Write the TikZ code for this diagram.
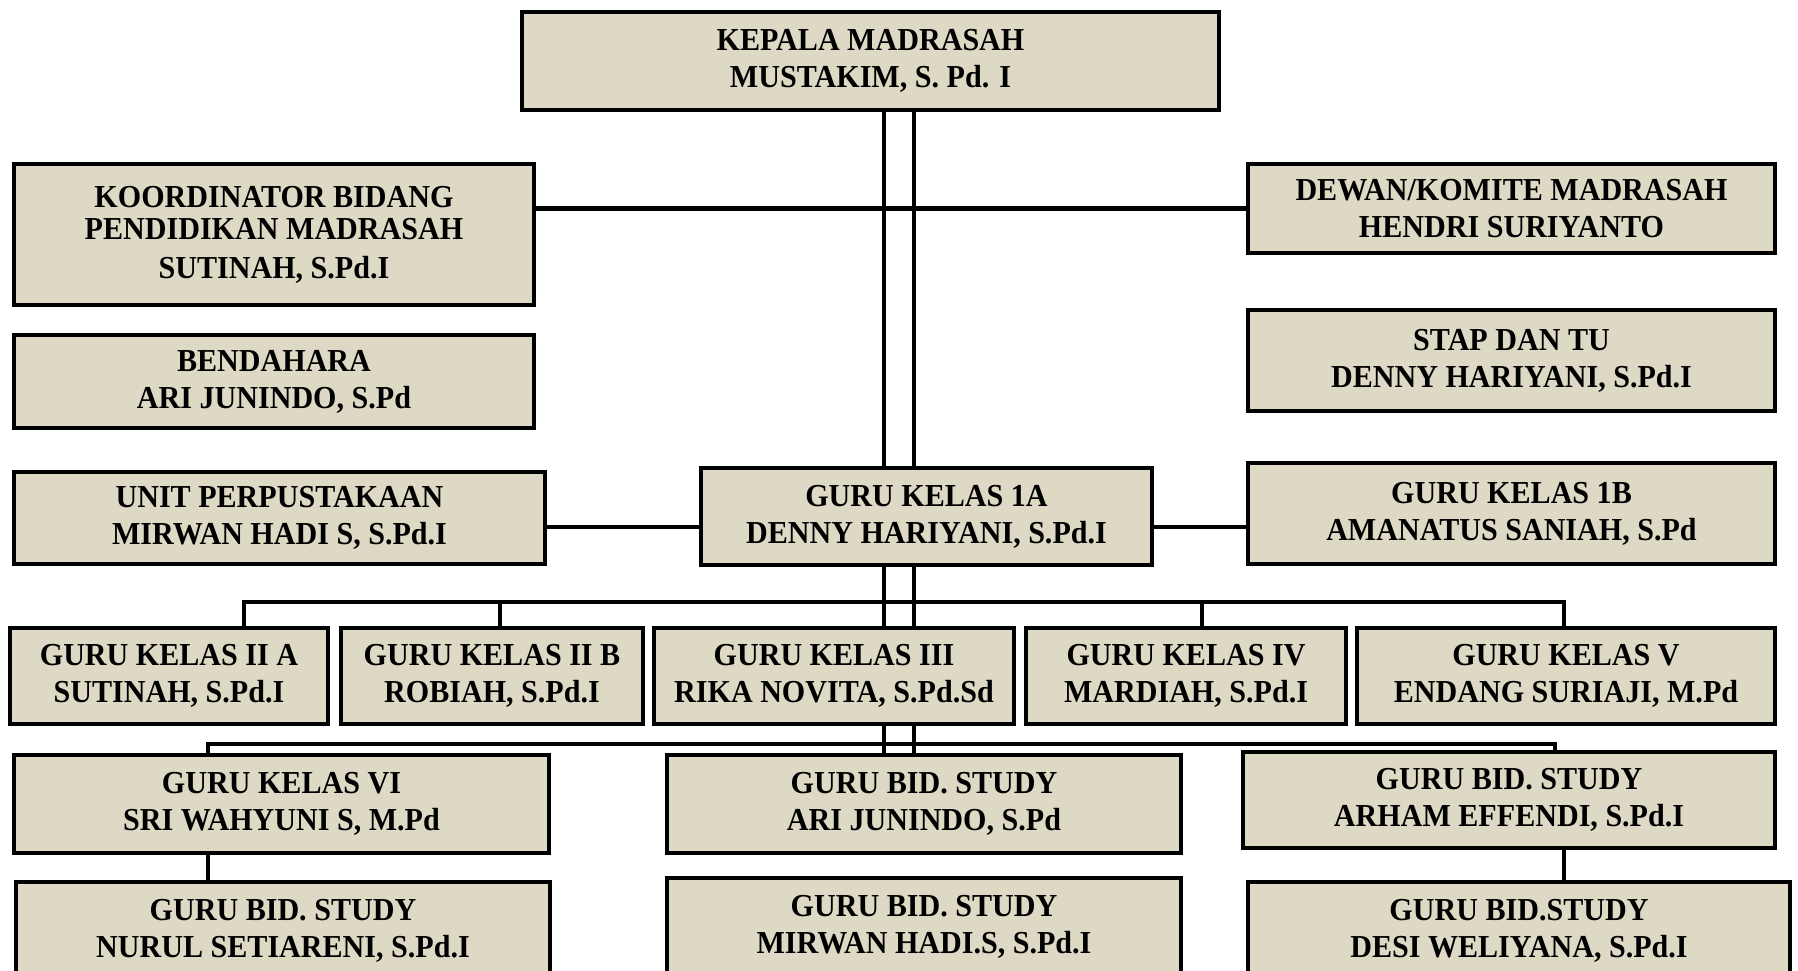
\documentclass[tikz,border=0pt]{standalone}
\usepackage{fontspec}
\setmainfont[FakeStretch=0.94]{Liberation Serif}
\usetikzlibrary{backgrounds}
\definecolor{boxfill}{HTML}{DDD9C4}
\tikzset{
  orgbox/.style={draw=black, line width=0.042cm, fill=boxfill, rectangle,
    inner sep=0pt, outer sep=0pt, align=center,
    font=\fontsize{9.1}{10.5}\selectfont\bfseries},
  link/.style={draw=black, line width=0.042cm}
}
\newcommand\orgbox[6]{\node[orgbox, minimum width={(#4-#2)*0.01cm}, minimum height={(#5-#3)*0.01cm}] (#1) at ({(#2+#4)/2},{(#3+#5)/2}) {#6};}
\begin{document}
\begin{tikzpicture}[x=0.01cm,y=-0.01cm]
\useasboundingbox (0,0) rectangle (1798,971);
\clip (0,0) rectangle (1798,971);
\orgbox{kepala}{522}{12}{1219}{110}{KEPALA MADRASAH\\MUSTAKIM, S. Pd. I}
\orgbox{koord}{14}{164}{534}{305}{KOORDINATOR BIDANG\\[-1.4pt]PENDIDIKAN MADRASAH\\[0.6pt]SUTINAH, S.Pd.I}
\orgbox{dewan}{1248}{164}{1775}{253}{DEWAN/KOMITE MADRASAH\\HENDRI SURIYANTO}
\orgbox{bend}{14}{335}{534}{428}{BENDAHARA\\ARI JUNINDO, S.Pd}
\orgbox{stap}{1248}{310}{1775}{411}{STAP DAN TU\\DENNY HARIYANI, S.Pd.I}
\orgbox{unit}{14}{472}{545}{564}{UNIT PERPUSTAKAAN\\MIRWAN HADI S, S.Pd.I}
\orgbox{g1a}{701}{468}{1152}{565}{GURU KELAS 1A\\DENNY HARIYANI, S.Pd.I}
\orgbox{g1b}{1248}{463}{1775}{564}{GURU KELAS 1B\\AMANATUS SANIAH, S.Pd}
\orgbox{g2a}{10}{628}{328}{724}{GURU KELAS II A\\SUTINAH, S.Pd.I}
\orgbox{g2b}{341}{628}{643}{724}{GURU KELAS II B\\ROBIAH, S.Pd.I}
\orgbox{g3}{654}{628}{1014}{724}{GURU KELAS III\\RIKA NOVITA, S.Pd.Sd}
\orgbox{g4}{1026}{628}{1346}{724}{GURU KELAS IV\\MARDIAH, S.Pd.I}
\orgbox{g5}{1357}{628}{1775}{724}{GURU KELAS V\\ENDANG SURIAJI, M.Pd}
\orgbox{g6}{14}{755}{549}{853}{GURU KELAS VI\\SRI WAHYUNI S, M.Pd}
\orgbox{bidari}{667}{755}{1181}{853}{GURU BID. STUDY\\ARI JUNINDO, S.Pd}
\orgbox{arham}{1243}{752}{1775}{848}{GURU BID. STUDY\\ARHAM EFFENDI, S.Pd.I}
\orgbox{nurul}{16}{882}{550}{980}{GURU BID. STUDY\\NURUL SETIARENI, S.Pd.I}
\orgbox{mirwan}{667}{878}{1181}{976}{GURU BID. STUDY\\MIRWAN HADI.S, S.Pd.I}
\orgbox{desi}{1248}{882}{1790}{980}{GURU BID.STUDY\\DESI WELIYANA, S.Pd.I}
\coordinate (vL) at (884,0);
\coordinate (vR) at (914,0);
\coordinate (yU) at (0,527);
\coordinate (d2a) at (244,602);
\coordinate (d2b) at (500,602);
\coordinate (d2d) at (1202,602);
\coordinate (d2e) at (1564,602);
\coordinate (d6a) at (208,744);
\coordinate (d6c) at (1555,744);
\coordinate (dd) at (1564,0);
\begin{pgfonlayer}{background}
\draw[link] (kepala.south -| vL) -- (bidari.north -| vL);
\draw[link] (kepala.south -| vR) -- (bidari.north -| vR);
\draw[link] (dewan.west) -- (dewan.west -| koord.east);
\draw[link] (unit.east |- yU) -- (g1a.west |- yU);
\draw[link] (g1a.east |- yU) -- (g1b.west |- yU);
\draw[link] (g2a.north -| d2a) -- (d2a) -- (d2e) -- (g5.north -| d2e);
\draw[link] (d2b) -- (d2b |- g2b.north);
\draw[link] (d2d) -- (d2d |- g4.north);
\draw[link] (g6.north -| d6a) -- (d6a) -- (d6c) -- (arham.north -| d6c);
\draw[link] (g6.south -| d6a) -- (nurul.north -| d6a);
\draw[link] (arham.south -| dd) -- (desi.north -| dd);
\end{pgfonlayer}
\end{tikzpicture}
\end{document}
